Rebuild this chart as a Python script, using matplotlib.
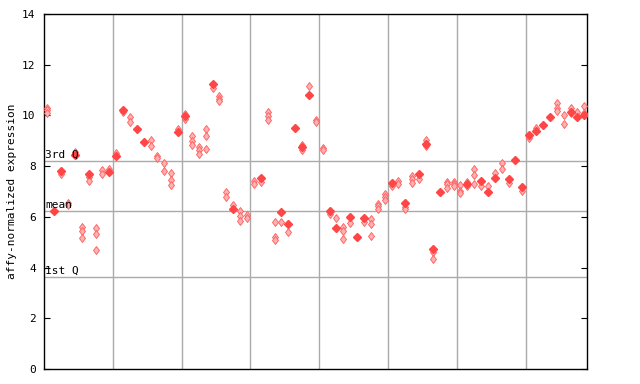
import numpy as np
import matplotlib.pyplot as plt

# replicate values (hatched diamonds) per sample position
reps = [
    [10.3, 10.2, 10.1], [], [7.68], [6.55, 6.47], [8.57],
    [5.61, 5.44, 5.18], [7.57, 7.42], [5.55, 5.32, 4.69], [7.86, 7.68], [7.89],
    [8.53], [10.15], [9.92, 9.75], [], [],
    [9.03, 8.78], [8.39, 8.33], [8.11, 7.79], [7.75, 7.44, 7.24], [9.46],
    [10.04, 9.86], [9.17, 9.0, 8.82], [8.75, 8.62, 8.49], [9.46, 9.17, 8.66], [11.07],
    [10.75, 10.65, 10.57], [6.97, 6.78], [6.47], [6.25, 6.03, 5.84], [6.07, 5.97],
    [7.41, 7.28], [7.38], [10.12, 9.99, 9.83], [5.78, 5.21, 5.1], [5.79],
    [5.39], [], [8.82, 8.62], [11.16], [9.84, 9.75],
    [8.70, 8.62], [6.11], [5.94], [5.6, 5.43, 5.11], [5.74],
    [], [5.80], [5.91, 5.73, 5.23], [6.52, 6.43, 6.31], [6.91, 6.78, 6.65],
    [7.23], [7.41, 7.31], [6.4, 6.33], [7.61, 7.48, 7.32], [7.48],
    [9.04, 8.81], [4.63, 4.34], [], [7.39, 7.28, 7.15], [7.36, 7.28, 7.2],
    [7.26, 7.02, 6.93], [7.36, 7.2], [7.87, 7.65, 7.30], [7.22], [7.20],
    [7.72], [8.14, 7.87], [7.32], [], [7.02],
    [9.1], [9.49], [], [], [10.48, 10.28, 10.19],
    [10.02, 9.65], [10.28, 10.1], [10.15], [10.36, 10.1],
]
# solid diamonds per sample position (None = absent)
solid = [
    None, 6.22, 7.8, None, 8.45, None, 7.7, None, None, 7.78,
    8.39, 10.21, None, 9.48, 8.95, None, None, None, None, 9.36,
    9.96, None, None, None, 11.25, None, None, 6.33, None, None,
    None, 7.52, None, None, 6.20, 5.73, 9.52, 8.75, 10.80, None,
    None, 6.24, 5.56, None, 6.01, 5.19, 5.97, None, None, None,
    7.33, None, 6.53, None, 7.70, 8.88, 4.73, 6.99, None, None,
    None, 7.30, None, 7.41, 6.99, 7.53, None, 7.49, 8.25, 7.18,
    9.23, 9.38, 9.62, 9.94, None, None, 10.15, 9.94, 10.0,
]
q1, mean, q3 = 3.62, 6.23, 8.21
yticks = [0, 2, 4, 6, 8, 10, 12, 14]

plt.rcParams['font.family'] = 'DejaVu Sans Mono'
fig = plt.figure(figsize=(6.4, 3.84), dpi=100)
ax = fig.add_axes([0.0688, 0.039, 0.8484, 0.9245])

n = len(reps)
for b in np.arange(9.5, n - 1, 10):
    ax.axvline(b, color='#aaaaaa', lw=1, zorder=1)
for v in (q1, mean, q3):
    ax.axhline(v, color='#aaaaaa', lw=1, zorder=1)

rx = [i for i, r in enumerate(reps) for _ in r]
ry = [v for r in reps for v in r]
ax.plot(rx, ry, ls='none', marker='d', ms=4.5, mfc='#ffb0b0', mec='#ff5a5a',
        mew=0.6, zorder=3)
sx = [i for i, v in enumerate(solid) if v is not None]
sy = [v for v in solid if v is not None]
ax.plot(sx, sy, ls='none', marker='D', ms=3.6, color='#ff4545', zorder=4)

for v, lab in ((q3, '3rd Q'), (mean, 'mean'), (q1, '1st Q')):
    ax.text(0.002, v + 0.05, lab, transform=ax.get_yaxis_transform(),
            fontsize=8, va='bottom', ha='left', zorder=5)

ax.set_xlim(-0.48, n - 1 + 0.39)
ax.set_ylim(0, 14)
ax.set_yticks(yticks)
ax.set_xticks([])
ax.tick_params(axis='y', direction='in', length=4, labelsize=8, right=True, pad=6)
ax.set_ylabel('affy-normalized expression', fontsize=8, labelpad=4)
for s in ax.spines.values():
    s.set_linewidth(1)

fig.savefig('out.png', dpi=100)
